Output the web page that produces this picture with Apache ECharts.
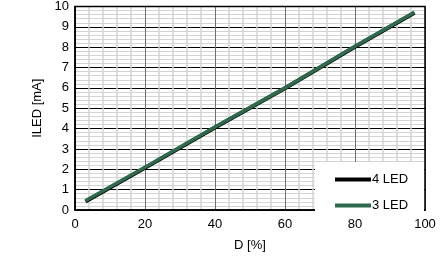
<!DOCTYPE html>
<html><head><meta charset="utf-8">
<script src="https://cdn.jsdelivr.net/npm/echarts@6/dist/echarts.min.js"></script>
<style>html,body{margin:0;padding:0;background:#fff}#c{width:441px;height:257px}</style>
</head><body><div id="c"></div>
<script>
const dValues = [3, 20, 40, 60, 80, 97];
const led4 = [0.42, 2.07, 4.05, 5.98, 8.02, 9.69];
const led3 = [0.45, 2.1, 4.08, 6.0, 8.05, 9.72];
const seriesNames = ['4 LED', '3 LED'];
const xTicks = [0, 20, 40, 60, 80, 100];
const yTicks = [0,1,2,3,4,5,6,7,8,9,10];

const chart = echarts.init(document.getElementById('c'), null, {renderer:'canvas'});
const font = 'Liberation Sans, Arial, sans-serif';
chart.setOption({
  animation:false,
  grid:{left:75,right:16,top:5,bottom:41,show:true,borderColor:'#000',borderWidth:1.5,z:2},
  xAxis:{type:'value',min:xTicks[0],max:xTicks[xTicks.length-1],interval:20,
    name:'D [%]',nameLocation:'middle',nameGap:29,
    nameTextStyle:{fontFamily:font,fontSize:13,color:'#000'},
    axisLine:{show:true,lineStyle:{color:'#000',width:1.5}},
    axisTick:{show:false},
    axisLabel:{fontFamily:font,fontSize:13,color:'#000',margin:8},
    splitLine:{show:true,lineStyle:{color:'#707070',width:1}},
    minorTick:{show:false,splitNumber:5},
    minorSplitLine:{show:true,lineStyle:{color:'#d3d3d3',width:1.5}}
  },
  yAxis:{type:'value',min:yTicks[0],max:yTicks[yTicks.length-1],interval:1,
    name:'ILED [mA]',nameLocation:'middle',nameGap:31,
    nameTextStyle:{fontFamily:font,fontSize:13,color:'#000'},
    axisLine:{show:true,lineStyle:{color:'#000',width:1.5}},
    axisTick:{show:false},
    axisLabel:{fontFamily:font,fontSize:13,color:'#000',margin:6},
    splitLine:{show:true,lineStyle:{color:'#000',width:1}},
    minorTick:{show:false,splitNumber:5},
    minorSplitLine:{show:true,lineStyle:{color:'#d3d3d3',width:1}}
  },
  graphic:[{type:'rect',z:3,shape:{x:315,y:162,width:109,height:53},style:{fill:'#fff'}}],
  legend:{orient:'vertical',left:330,top:168,z:10,itemWidth:36,itemHeight:4,itemGap:13,icon:'rect',
    textStyle:{fontFamily:font,fontSize:13,color:'#000',padding:[0,0,0,-4]},
    data:seriesNames},
  series:[
    {name:seriesNames[0],type:'line',data:dValues.map((d,i)=>[d,led4[i]]),showSymbol:false,
      lineStyle:{color:'#000',width:4},itemStyle:{color:'#000'},z:4},
    {name:seriesNames[1],type:'line',data:dValues.map((d,i)=>[d,led3[i]]),showSymbol:false,
      lineStyle:{color:'#2e6b4c',width:3.5},itemStyle:{color:'#2e6b4c'},z:5}
  ]
});
</script></body></html>
